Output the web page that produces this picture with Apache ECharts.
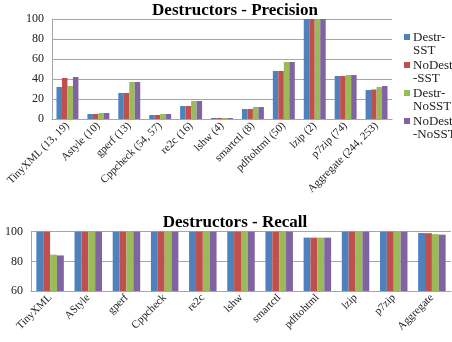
<!DOCTYPE html>
<html>
<head>
<meta charset="utf-8">
<script src="https://cdn.jsdelivr.net/npm/echarts@6/dist/echarts.min.js"></script>
<style>
  html, body { margin: 0; padding: 0; background: #fff; }
  #chart { width: 452px; height: 342px; }
</style>
</head>
<body>
<div id="chart"></div>
<script>
// Precision per program (numbers in parentheses: destructor counts)
const precisionCategories = ['TinyXML (13, 19)', 'Astyle (10)', 'gperf (13)', 'Cppcheck (54, 57)', 're2c (16)', 'lshw (4)', 'smartctl (8)', 'pdftohtml (50)', 'lzip (2)', 'p7zip (74)', 'Aggregate (244, 253)'];
const recallCategories = ['TinyXML', 'AStyle', 'gperf', 'Cppcheck', 're2c', 'lshw', 'smartctl', 'pdftohtml', 'lzip', 'p7zip', 'Aggregate'];

const seriesNames = ['Destr-SST', 'NoDestr-SST', 'Destr-NoSST', 'NoDestr-NoSST'];
const legendLabels = ['Destr-\nSST', 'NoDestr\n-SST', 'Destr-\nNoSST', 'NoDestr\n-NoSST'];
const colors = ['#4F81BD', '#C0504D', '#9BBB59', '#8064A2'];

const precisionDestrSST     = [32, 5, 26, 4, 13, 1, 10, 48, 100, 43, 29];
const precisionNoDestrSST   = [41, 5, 26, 4, 13, 1, 10, 48, 100, 43, 29.5];
const precisionDestrNoSST   = [33, 6, 37, 5, 18, 1, 12, 57, 100, 44, 32];
const precisionNoDestrNoSST = [42, 6, 37, 5, 18, 1, 12, 57, 100, 44, 33];

const recallDestrSST     = [100, 100, 100, 100, 100, 100, 100, 96, 100, 100, 99.1];
const recallNoDestrSST   = [100, 100, 100, 100, 100, 100, 100, 96, 100, 100, 99];
const recallDestrNoSST   = [84.5, 100, 100, 100, 100, 100, 100, 96, 100, 100, 98.4];
const recallNoDestrNoSST = [84, 100, 100, 100, 100, 100, 100, 96, 100, 100, 98];

const precisionTicks = { min: 0, max: 100, interval: 20 };
const recallTicks = { min: 60, max: 100, interval: 20 };

const precisionData = [precisionDestrSST, precisionNoDestrSST, precisionDestrNoSST, precisionNoDestrNoSST];
const recallData = [recallDestrSST, recallNoDestrSST, recallDestrNoSST, recallNoDestrNoSST];

const serif = 'Liberation Serif';
const gridLine = { lineStyle: { color: '#a6a6a6', width: 1 } };

function xAxis(gridIndex, cats) {
  return {
    type: 'category', gridIndex, data: cats,
    axisLine: { show: true, lineStyle: { color: '#a6a6a6' } },
    axisTick: { show: false },
    axisLabel: { rotate: 45, fontFamily: serif, fontSize: 11, color: '#222', margin: 5, interval: 0 }
  };
}
function yAxis(gridIndex, t) {
  return {
    type: 'value', gridIndex, min: t.min, max: t.max, interval: t.interval,
    axisLine: { show: true, lineStyle: { color: '#a6a6a6' } },
    axisTick: { show: false },
    splitLine: gridLine,
    axisLabel: { fontFamily: serif, fontSize: 12, color: '#222', margin: 8 }
  };
}

const series = [];
seriesNames.forEach((name, i) => {
  series.push({
    name, type: 'bar', xAxisIndex: 0, yAxisIndex: 0,
    data: precisionData[i], itemStyle: { color: colors[i] },
    barGap: '0%', barCategoryGap: '29%'
  });
  series.push({
    name, type: 'bar', xAxisIndex: 1, yAxisIndex: 1,
    data: recallData[i], itemStyle: { color: colors[i] },
    barGap: '0%', barCategoryGap: '28%'
  });
});

const chart = echarts.init(document.getElementById('chart'), null, { renderer: 'canvas' });
chart.setOption({
  animation: false,
  backgroundColor: '#fff',
  title: [
    { text: 'Destructors - Precision', left: 230, top: -3, textAlign: 'center',
      textStyle: { fontFamily: serif, fontSize: 17, fontWeight: 'bold', color: '#000' } },
    { text: 'Destructors - Recall', left: 230, top: 209, textAlign: 'center',
      textStyle: { fontFamily: serif, fontSize: 17, fontWeight: 'bold', color: '#000' } }
  ],
  legend: {
    data: seriesNames,
    orient: 'vertical', left: 404, top: 31,
    itemWidth: 6, itemHeight: 20, itemGap: 2,
    // square sits at the top of the item, beside the first text line
    icon: 'path://M0,0H10V10H0Z M0,33L0.01,33',
    formatter: name => legendLabels[seriesNames.indexOf(name)],
    textStyle: { fontFamily: serif, fontSize: 13, color: '#222', lineHeight: 13, padding: [0, 0, 0, -2] },
    padding: 0
  },
  grid: [
    { left: 52, right: 60, top: 19, height: 100 },
    { left: 31, right: 1, top: 231.7, height: 59.3 }
  ],
  xAxis: [xAxis(0, precisionCategories), xAxis(1, recallCategories)],
  yAxis: [yAxis(0, precisionTicks), yAxis(1, recallTicks)],
  series
});
</script>
</body>
</html>
